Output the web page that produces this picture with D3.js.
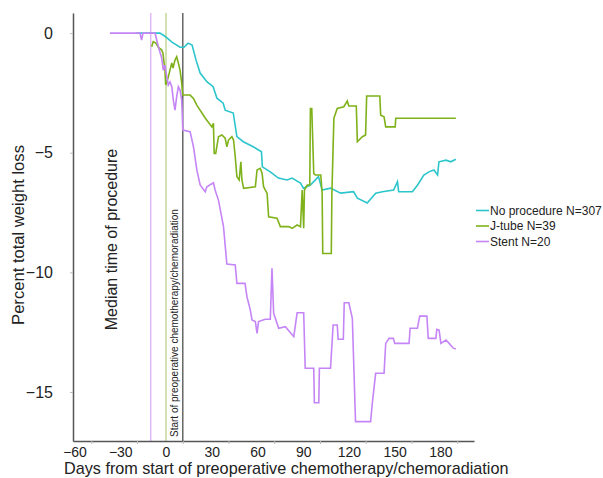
<!DOCTYPE html>
<html>
<head>
<meta charset="utf-8">
<script src="https://cdn.jsdelivr.net/npm/d3@7"></script>
<style>
  body { margin: 0; background: #fff; }
  svg { font-family: "Liberation Sans", Arial, Helvetica, sans-serif; }
</style>
</head>
<body>
<svg id="chart" width="603" height="478"></svg>
<script>
// [day, percent weight change]
const noProcedure = [[-20,0],[-4,0],[-0.7,-0.13],[3.9,-0.38],[9.2,-0.59],[11.8,-0.59],[14.5,-0.42],[17.1,-0.5],[19.7,-1.13],[22.4,-1.67],[26.8,-2.03],[30.9,-2.24],[33.4,-2.72],[37.5,-2.93],[38.8,-3.22],[44.1,-3.34],[46.5,-4.33],[50.7,-4.54],[57.2,-4.75],[62.6,-4.96],[63.2,-5.59],[68.4,-5.8],[73.7,-6.06],[79.4,-6.14],[82.7,-6.06],[88.2,-6.27],[90.1,-6.48],[94.7,-6.35],[100,-6.0],[102.4,-6.56],[107.9,-6.48],[114.5,-6.69],[123,-6.63],[125.5,-6.9],[132,-7.1],[137.5,-6.69],[141.9,-6.63],[149.3,-6.56],[151.8,-6.21],[152.6,-6.63],[161.6,-6.63],[165,-6.35],[169.1,-5.93],[172.4,-5.8],[175.7,-5.72],[178.1,-5.93],[179,-5.38],[183.6,-5.31],[186.8,-5.38],[190.1,-5.27]];

const jTube = [[-9.4,-0.57],[-8.4,-0.36],[-6.6,-0.42],[-5.3,-0.57],[-2.8,-0.71],[-2.0,-0.84],[-0.7,-1.55],[-0.2,-2.17],[1.3,-1.88],[2.6,-1.55],[3.8,-1.25],[4.6,-1.46],[5.9,-1.13],[7.0,-0.99],[8.1,-1.25],[9.2,-1.55],[10.3,-2.09],[10.9,-2.59],[15.8,-2.59],[18,-2.73],[20.2,-3.01],[25.7,-3.55],[30.1,-3.92],[31.1,-3.77],[31.6,-5.03],[32.6,-5.03],[34.4,-4.33],[36.6,-4.26],[38.8,-4.39],[39.9,-4.75],[41,-4.47],[43.2,-4.33],[44.3,-4.47],[45.4,-5.17],[46.5,-6.0],[48,-6.14],[49.1,-5.38],[49.8,-6.14],[50.9,-6.49],[58.6,-6.42],[59.7,-5.72],[61.8,-5.65],[63,-5.86],[64,-6.42],[66.3,-6.7],[67.3,-7.68],[72.8,-7.74],[75,-8.09],[80.5,-8.09],[82.7,-8.16],[86,-8.02],[88.2,-8.09],[89.3,-6.56],[90.3,-8.16],[90.8,-6.56],[92.6,-6.35],[94.3,-6.35],[94.7,-3.15],[95.6,-3.15],[96.9,-5.86],[98,-5.93],[101.5,-5.93],[102.4,-6.7],[102.8,-9.21],[108.4,-9.21],[108.8,-6.7],[110.1,-3.56],[112.3,-3.15],[116.6,-3.08],[118.9,-2.84],[119.9,-3.05],[124.8,-3.05],[125.5,-4.54],[128.8,-4.33],[130.9,-4.26],[131.6,-2.63],[140.2,-2.63],[140.8,-3.43],[143,-3.5],[144.1,-3.92],[150.3,-3.92],[150.7,-3.56],[190.1,-3.56]];

const stent = [[-36.8,0],[-17.1,0],[-16,-0.29],[-15.1,0],[-7.2,0],[-6.1,-0.29],[-4.4,-0.71],[-2.8,-1.04],[-1.8,-1.55],[-0.7,-1.34],[0.5,-1.83],[1.5,-2.17],[2.6,-2.04],[3.8,-2.24],[4.8,-2.8],[5.9,-3.22],[7.0,-2.66],[8.1,-2.24],[9.2,-2.38],[10.3,-2.8],[11,-4.05],[15.8,-4.12],[18,-4.75],[20.2,-5.72],[22.4,-6.35],[25.7,-6.63],[26.8,-6.42],[31.1,-6.26],[32.2,-6.56],[34.4,-6.98],[37.7,-8.09],[39.9,-9.65],[45.4,-9.69],[46.5,-10.46],[51.8,-10.46],[53.1,-11.02],[55.3,-11.58],[56.4,-11.99],[58.6,-12.06],[59.7,-12.55],[60.7,-12.06],[65.1,-11.96],[68.4,-11.96],[69.5,-9.83],[70.6,-11.71],[73.9,-12.34],[78.3,-12.27],[83.8,-12.69],[86,-11.69],[90.3,-11.69],[91.3,-14.01],[96.9,-14.01],[97.3,-15.45],[100.2,-15.45],[100.6,-14.01],[107.9,-14.01],[109.6,-12.2],[112.3,-12.2],[112.9,-12.8],[116.3,-12.8],[116.9,-11.27],[119.9,-11.27],[122.2,-11.92],[124.3,-16.24],[134.2,-16.24],[135.3,-15.47],[137.5,-14.22],[143,-14.22],[144.1,-12.97],[146.3,-12.76],[149.1,-12.76],[150,-12.97],[159.4,-12.97],[160.1,-12.34],[164.9,-12.34],[166.4,-11.83],[171.1,-11.83],[172,-12.76],[177,-12.76],[177.6,-12.38],[179.1,-12.41],[180.3,-12.97],[183.6,-12.83],[185.7,-12.97],[188.2,-13.16],[190.1,-13.2]];

const seriesNames = ["No procedure N=307", "J-tube N=39", "Stent N=20"];
const seriesColors = ["#2cc5cc", "#7fb21a", "#c585f6"];
const xLabelTicks = [-60, -30, 0, 30, 60, 90, 120, 150, 180];
const xMarkTicks = [-49, -19, 11, 41, 71, 101, 131, 161, 191];
const yTicks = [0, -5, -10, -15];
// vertical reference lines: stent median, j-tube median, start of chemo
const refLines = [[-10, "#dcaaf2"], [0, "#b3d07c"], [11, "#666666"]];

const svg = d3.select("#chart");

const x = d3.scaleLinear().domain([-61, 202]).range([73, 474]);
const y = d3.scaleLinear().domain([-17.05, 0.84]).range([441, 13]);

// reference lines
svg.selectAll(".ref")
  .data(refLines)
  .enter().append("line")
  .attr("x1", d => x(d[0])).attr("x2", d => x(d[0]))
  .attr("y1", y(0.84)).attr("y2", y(-17.05))
  .attr("stroke", d => d[1])
  .attr("stroke-width", (d, i) => i == 2 ? 1.5 : 1.2);

// x axis: marks and labels
const xAxisMarks = svg.append("g")
  .attr("transform", "translate(0," + y(-17.05) + ")")
  .call(d3.axisBottom(x).tickValues(xMarkTicks).tickFormat("").tickSize(3).tickSizeOuter(0));
xAxisMarks.select(".domain").attr("stroke", "#555").attr("stroke-width", 1.5);
xAxisMarks.selectAll(".tick line").attr("stroke", "#bbb");

const xAxisLabels = svg.append("g")
  .attr("transform", "translate(0," + y(-17.05) + ")")
  .call(d3.axisBottom(x).tickValues(xLabelTicks).tickSize(0).tickPadding(6));
xAxisLabels.select(".domain").remove();
xAxisLabels.selectAll("text")
  .attr("font-size", 14).attr("fill", "#222")
  .attr("font-family", "Liberation Sans, Arial, sans-serif");

// y axis
const yAxis = svg.append("g")
  .attr("transform", "translate(" + x(-61) + ",0)")
  .call(d3.axisLeft(y).tickValues(yTicks).tickSize(3).tickPadding(17).tickSizeOuter(0));
yAxis.select(".domain").attr("stroke", "#555").attr("stroke-width", 1.5);
yAxis.selectAll(".tick line").attr("stroke", "#bbb");
yAxis.selectAll("text")
  .attr("font-size", 16).attr("fill", "#222")
  .attr("font-family", "Liberation Sans, Arial, sans-serif");

// data lines
const line = d3.line().x(d => x(d[0])).y(d => y(d[1]));
const allSeries = [noProcedure, jTube, stent];
svg.selectAll(".series")
  .data(allSeries)
  .enter().append("path")
  .attr("class", "series")
  .attr("d", line)
  .attr("fill", "none")
  .attr("stroke", (d, i) => seriesColors[i])
  .attr("stroke-width", 1.6)
  .attr("stroke-linejoin", "miter");

// axis titles
svg.append("text")
  .attr("x", 64).attr("y", 474)
  .attr("font-size", 16.2).attr("fill", "#222")
  .text("Days from start of preoperative chemotherapy/chemoradiation");

svg.append("text")
  .attr("transform", "translate(23.5,235) rotate(-90)")
  .attr("text-anchor", "middle")
  .attr("font-size", 16.6).attr("fill", "#222")
  .text("Percent total weight loss");

svg.append("text")
  .attr("transform", "translate(116.5,239.5) rotate(-90)")
  .attr("text-anchor", "middle")
  .attr("font-size", 16).attr("fill", "#222")
  .text("Median time of procedure");

svg.append("text")
  .attr("transform", "translate(178,437) rotate(-90)")
  .attr("font-size", 10).attr("fill", "#222")
  .text("Start of preoperative chemotherapy/chemoradiation");

// legend
const legend = svg.append("g").attr("transform", "translate(476,210.5)");
const rows = legend.selectAll("g")
  .data(seriesNames)
  .enter().append("g")
  .attr("transform", (d, i) => "translate(0," + i * 15.5 + ")");
rows.append("line")
  .attr("x1", 0).attr("x2", 13)
  .attr("stroke", (d, i) => seriesColors[i])
  .attr("stroke-width", 1.6);
rows.append("text")
  .attr("x", 14).attr("dy", "0.35em")
  .attr("font-size", 12).attr("fill", "#222")
  .text(d => d);
</script>
</body>
</html>
